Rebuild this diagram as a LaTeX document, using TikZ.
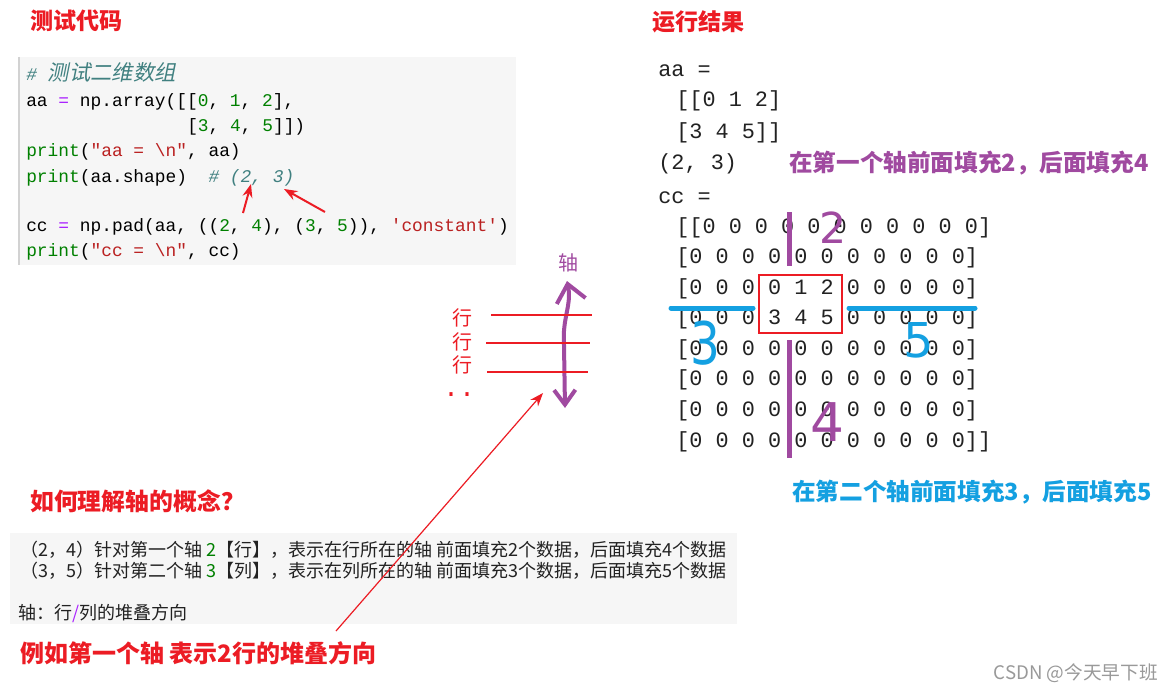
\documentclass[tikz,border=0pt]{standalone}
\usepackage{fontspec}
\usetikzlibrary{arrows.meta}
\newfontfamily\cjk{Noto Sans CJK SC}
\newfontfamily\cjkit[FakeSlant=0.2]{Noto Sans CJK SC}
\newfontfamily\mono{Liberation Mono}
\newfontfamily\hand{DejaVu Sans}
\definecolor{myred}{RGB}{236,28,36}
\definecolor{mypurple}{RGB}{160,74,160}
\definecolor{myblue}{RGB}{20,160,225}
\definecolor{cgreen}{RGB}{0,128,0}
\definecolor{cop}{RGB}{170,34,255}
\definecolor{cstr}{RGB}{186,33,33}
\definecolor{ccmt}{RGB}{64,128,128}
\definecolor{codebg}{RGB}{246,246,246}
\definecolor{outc}{RGB}{34,34,34}
\newcommand\gn[1]{\textcolor{cgreen}{#1}}
\newcommand\pq[1]{\textcolor{cop}{#1}}
\newcommand\rs[1]{\textcolor{cstr}{#1}}
\tikzset{
  codeline/.style={anchor=base west, inner sep=0, text=black, font={\fontsize{13.4}{16}\mono}},
  outline/.style={anchor=base west, inner sep=0, text=outc, font={\fontsize{16.4}{20}\mono}},
  head/.style={anchor=west, inner sep=0, text=myred, font={\fontsize{17.3}{20}\cjk\bfseries}},
  note/.style={anchor=west, inner sep=0, font={\fontsize{17.7}{20}\cjk\bfseries}},
  boxtext/.style={anchor=west, inner sep=0, text=outc, font={\fontsize{13.5}{16}\cjk}},
  handnum/.style={inner sep=0, font={\fontsize{32}{32}\hand}},
  rowlbl/.style={inner sep=0, text=myred, font={\fontsize{15}{16}\cjk}},
  redarrow/.style={myred, -{Stealth[length=10pt,width=7.5pt]}},
  purpleline/.style={mypurple, line width=3.75pt},
  blueline/.style={myblue, line width=3.75pt, line cap=round},
}
\begin{document}
\begin{tikzpicture}[x=0.75pt,y=-0.75pt]
\useasboundingbox (0,0) rectangle (1174,692);
\fill[white] (0,0) rectangle (1174,692);

% ---------- headings ----------
\node[head] (h1) at (30,21) {测试代码};
\node[head] (h2) at (652,22) {运行结果};
\node[head, font={\fontsize{17.9}{20}\cjk\bfseries}] (h3) at (30,501) {如何理解轴的概念？};

% ---------- code box ----------
\fill[codebg] (18,57) rectangle (516,265);
\draw[gray!35, line width=1.5pt] (19,57) -- (19,265);
\node[codeline] (c1) at (26,81) {\textcolor{ccmt}{\itshape\# {\fontsize{16}{16}\cjkit 测试二维数组}}};
\node[codeline] (c2) at (26,107) {aa \pq{=} np.array([[\gn{0}, \gn{1}, \gn{2}],};
\node[codeline] (c3) at (187,132) {[\gn{3}, \gn{4}, \gn{5}]])};
\node[codeline] (c4) at (26,156) {\gn{print}(\rs{"aa = \textbackslash n"}, aa)};
\node[codeline] (c5) at (26,182) {\gn{print}(aa.shape)\ \ \textcolor{ccmt}{\itshape\# (2, 3)}};
\node[codeline] (c6) at (26,231) {cc \pq{=} np.pad(aa, ((\gn{2}, \gn{4}), (\gn{3}, \gn{5})), \rs{'constant'})};
\node[codeline] (c7) at (26,256) {\gn{print}(\rs{"cc = \textbackslash n"}, cc)};
\coordinate (t2) at (251,184);
\coordinate (t3) at (284,189);
\coordinate (s2) at (243,213);
\coordinate (s3) at (325,212);
\draw[redarrow, line width=1.5pt] (s2) -- (t2);
\draw[redarrow, line width=1.5pt] (s3) -- (t3);

% ---------- output ----------
\node[outline] (o1) at (658,77) {aa =};
\node[outline] (o2) at (676,107) {[[0 1 2]};
\node[outline] (o3) at (676,138) {[3 4 5]]};
\node[outline] (o4) at (658,169) {(2, 3)};
\node[outline] (o5) at (658,203) {cc =};
\node[outline] (r1) at (676,233) {[[0 0 0 0 0 0 0 0 0 0 0]};
\node[outline] (r2) at (676,263.6) {[0 0 0 0 0 0 0 0 0 0 0]};
\node[outline] (r3) at (676,294.1) {[0 0 0 0 1 2 0 0 0 0 0]};
\node[outline] (r4) at (676,324.7) {[0 0 0 3 4 5 0 0 0 0 0]};
\node[outline] (r5) at (676,355.3) {[0 0 0 0 0 0 0 0 0 0 0]};
\node[outline] (r6) at (676,385.9) {[0 0 0 0 0 0 0 0 0 0 0]};
\node[outline] (r7) at (676,416.4) {[0 0 0 0 0 0 0 0 0 0 0]};
\node[outline] (r8) at (676,447) {[0 0 0 0 0 0 0 0 0 0 0]]};

\draw[myred, line width=1pt] (759,275) rectangle (842,333);
\draw[purpleline] (789,212) -- (789,266);
\draw[purpleline] (789,340) -- (789,458);
\draw[blueline] (671,308) -- (753,308);
\draw[blueline] (849,308) -- (975,308);
\node[handnum, text=mypurple] (n2) at (833,228) {2};
\node[handnum, text=mypurple, font={\fontsize{40}{40}\hand}] (n4) at (827,422) {4};
\node[handnum, text=myblue, font={\fontsize{44}{44}\hand}, xscale=0.8] (n3) at (705,343) {3};
\node[handnum, text=myblue, font={\fontsize{36}{36}\hand}] (n5) at (919,340) {5};

\node[note, text=mypurple] (p1) at (789,163) {在第一个轴前面填充2，后面填充4};
\node[note, text=myblue] (p2) at (792,492) {在第二个轴前面填充3，后面填充5};

% ---------- middle: axis sketch ----------
\node[inner sep=0, text=mypurple, font={\fontsize{15}{16}\cjk}] (axis) at (568,263) {轴};
\coordinate (atop) at (567,281);
\coordinate (abot) at (565,408);
\draw[mypurple, line width=3pt, line cap=round,
  {Straight Barb[length=13pt,width=22pt]}-{Straight Barb[length=11pt,width=16pt]}]
  (atop) .. controls (572,305) and (562,318) .. (564,345) -- (abot);
\draw[myred, line width=1.1pt] (491,315) -- (592,315);
\draw[myred, line width=1.1pt] (486,343) -- (590,343);
\draw[myred, line width=1.1pt] (487,372) -- (588,372);
\node[rowlbl] (row1) at (462,318) {行};
\node[rowlbl] (row2) at (462,342) {行};
\node[rowlbl] (row3) at (462,365) {行};
\node[anchor=base, inner sep=0, text=myred, font={\fontsize{20}{20}\mono}] (dots) at (459,396) {..};

% ---------- bottom box ----------
\fill[codebg] (10,533) rectangle (737,624);
\node[boxtext] (b1) at (20,550) {（2，4）针对第一个轴 \gn{2}【行】，表示在行所在的轴 前面填充2个数据，后面填充4个数据};
\node[boxtext] (b2) at (20,571) {（3，5）针对第二个轴 \gn{3}【列】，表示在列所在的轴 前面填充3个数据，后面填充5个数据};
\node[boxtext] (b3) at (18,613) {轴：行\pq{/}列的堆叠方向};

\node[head, font={\fontsize{18}{20}\cjk\bfseries}] (ex) at (20,653) {例如第一个轴 表示2行的堆叠方向};
\coordinate (exs) at (336,631);
\coordinate (ext) at (543,393);
\draw[redarrow, line width=0.9pt] (exs) -- (ext);

\node[anchor=east, inner sep=0, text=gray!80, font={\fontsize{14}{16}\cjk}] (wm) at (1158,673) {CSDN @今天早下班};
\end{tikzpicture}
\end{document}
